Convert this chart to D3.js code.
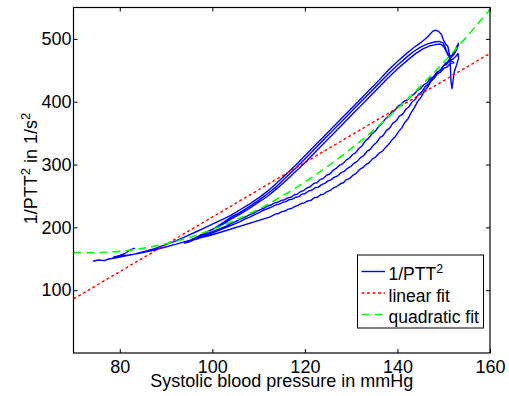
<!DOCTYPE html>
<html>
<head>
<meta charset="utf-8">
<script src="https://cdn.jsdelivr.net/npm/d3@7"></script>
<style>
  body { margin: 0; background: #fff; }
  text { font-family: "Liberation Sans", Arial, sans-serif; fill: #000; }
</style>
</head>
<body>
<svg id="chart" width="509" height="396"></svg>
<script>
// axis ticks
const xTicks = [80, 100, 120, 140, 160];
const yTicks = [100, 200, 300, 400, 500];

// 1/PTT^2 trace as [mmHg, 1/s^2], split into its cycles
const cycle1 = [
  [74.2,146],[75.4,148],[76.6,147],[77.8,150],[79,151],[80.3,153],[81.6,155],[83,157],[84.5,160],[86,163],
  [87.5,166],[89,170],[90.5,174],[92,178],[93.5,183],[95,188],[96.5,193],[98,198],[100,205],[102,212],
  [104,219],[106,228],[108,237],[110,247],[112,258],[114,271],[116,285],[118,299],[120,314],[122,329],
  [124,344],[126,359],[128,374],[130,389],[132,404],[134,419],[136,434],[138,450],[140,464],[142,477],
  [143.5,486],[145,494],[146.2,501],[147,507],[147.6,512],[148.2,514],[148.9,512],[149.5,507],[149.9,499],
  [150.4,492],[150.9,488],[151.2,477],[151.4,461],[151.5,445],[151.6,430],[151.8,421],[152,433],[152.3,448],
  [152.8,459],[153.2,469],[153.1,477],[152.6,472],
  [152,468],[151.3,466],[150.6,459],[149.9,457],[149.2,450],[148.5,447],[147.8,440],[147.1,437],[146.4,430],
  [145.7,427],[145,421],[144.3,418],[143.6,412],[142.9,409],[142.2,403],[141.5,401],[140.8,396],[140.1,393],
  [139.4,386],[138.7,383],[138,376],[137.3,372],[136.6,365],[135.9,360],[135.2,353],[134.5,349],[133.8,342],
  [133.1,338],[132.4,330],[131.7,326],[131,319],[130.3,316],[129.6,310],[128.9,307],[128.2,301],[127.5,299],
  [126.8,294],[126.1,291],[125.4,285],[124.7,283],[124,278],[123.3,276],[122.6,271],[121.9,270],[121.2,265],
  [120.5,263],[119.8,259],[119.1,257],[118.4,253],[117.7,252],[117,248],[116.3,247],[115.6,244],[114.9,243],
  [114.2,240],[113.5,239],[112.8,236],[112,234],[111,230],[110,227],[109,223],[108,220],[107,216],[106,213],
  [105,209],[104,206],[103,202],[102,199],[101,196],[100,193],[99,190],[98,187],[97,184],[96,181],[95,179]
];
const cycle2 = [
  [96,182],[97.5,187],[99,193],[100.5,199],[102,206],[104,216],[106,224],[108,233],[110,243],[112,254],
  [114,266],[116,280],[118,294],[120,309],[122,324],[124,339],[126,354],[128,369],[130,384],[132,399],
  [134,414],[136,429],[138,444],[140,458],[142,471],[143.5,480],[145,487],[146.5,492],[148,495],[149,496],
  [149.8,494],[150.3,487],[150.7,479],[151.2,472],[151.8,474],[152.4,481],[152.9,489],[153.2,493],[152.9,484],
  [152.3,476],[151.6,471],[150.9,464],[150.2,460],[149.5,452],[148.8,448],[148.1,440],[147.4,436],[146.7,428],
  [146,424],[145.3,416],[144.6,412],[143.9,404],[143.2,400],[142.5,392],[141.8,388],[141.1,380],[140.4,377],
  [139.7,369],[139,366],[138.3,358],[137.6,354],[136.9,346],[136.2,343],[135.5,335],[134.8,331],[134.1,324],
  [133.4,321],[132.7,314],[132,311],[131.3,305],[130.6,302],[129.9,297],[129.2,294],[128.5,289],[127.8,287],
  [127.1,282],[126.4,280],[125.7,276],[125,274],[124.3,270],[123.6,268],[122.9,264],[122.2,263],[121.5,259],
  [120.8,258],[120.1,254],[119.4,253],[118.7,249],[118,248],[117.3,245],[116.6,244],[115.9,241],[115.2,240],
  [114.5,237],[113.8,236],[113,233],[112,230],[111,227],[110,223],[109,220],[108,216],[107,213],[106,209],
  [105,206],[104,203],[103,200],[102,197],[101,194],[100,191],[99,188],[98,185],[97,182],[96,180],[95,177],[94,175]
];
const cycle3 = [
  [95,179],[96.5,184],[98,190],[99.5,195],[101,200],[102.5,206],[104,213],[106,221],[108,230],[110,240],
  [112,250],[114,262],[116,275],[118,289],[120,303],[122,318],[124,333],[126,348],[128,363],[130,378],
  [132,393],[134,408],[136,423],[138,438],[140,452],[142,465],[144,477],[145.5,484],[147,489],[148.2,491],
  [149.3,492],[150,488],[150.5,481],[151,473],[151.5,466],[152.2,462],
  [151.4,461],[150.7,455],[150,453],[149.3,447],[148.6,444],[147.9,437],[147.2,432],[146.5,423],[145.8,417],
  [145.1,407],[144.4,401],[143.7,391],[143,383],[142.3,373],[141.6,367],[140.9,358],[140.2,352],[139.5,344],
  [138.8,339],[138.1,332],[137.4,327],[136.7,321],[136,318],[135.3,312],[134.6,309],[133.9,303],[133.2,300],
  [132.5,295],[131.8,292],[131.1,286],[130.4,283],[129.7,278],[129,276],[128.3,271],[127.6,269],[126.9,265],
  [126.2,263],[125.5,259],[124.8,257],[124.1,253],[123.4,252],[122.7,248],[122,247],[121.3,243],[120.6,242],
  [119.9,239],[119.2,238],[118.5,235],[117.8,233],[117.1,230],[116.4,229],[115.7,226],[115,225],[114.3,222],
  [113.6,221],[112.8,218],[112.2,216],
  [99.5,187],[97,183],[94.5,178],[92,173],[89.5,168],[87,163],[84.5,159],[82,156],[80,154],[78.6,152.5],
  [79.8,155],[81,158],[82.2,164],[83.3,167]
];

// fits
const linearFit = [[70, 86], [160, 477]];
const quadFit = [
  [70,160],[75,159.6],[80,161.8],[85,166.6],[90,173.9],[95,183.8],[100,196.3],[105,211.4],[110,229],
  [115,249.2],[120,272],[125,297.4],[130,325.3],[135,355.8],[140,388.9],[145,424.6],[150,462.8],
  [155,503.6],[160,547]
];

const width = 509, height = 396;
const margin = { top: 7.5, right: 19, bottom: 43, left: 73.5 };
const innerWidth = width - margin.left - margin.right;
const innerHeight = height - margin.top - margin.bottom;

const svg = d3.select('#chart');
const g = svg.append('g')
  .attr('transform', `translate(${margin.left},${margin.top})`);

const x = d3.scaleLinear().domain([70, 160]).range([0, innerWidth]);
const y = d3.scaleLinear().domain([0, 550]).range([innerHeight, 0]);

// clip everything to the axes box
svg.append('defs').append('clipPath').attr('id', 'clip')
  .append('rect').attr('width', innerWidth).attr('height', innerHeight);

const line = d3.line().x(d => x(d[0])).y(d => y(d[1]));

const plot = g.append('g').attr('clip-path', 'url(#clip)');

// measured trace, one continuous line
plot.append('path')
  .datum(cycle1.concat(cycle2, cycle3))
  .attr('fill', 'none')
  .attr('stroke', '#0000ff')
  .attr('stroke-width', 1.4)
  .attr('stroke-linejoin', 'round')
  .attr('d', line);

plot.append('path')
  .datum(linearFit)
  .attr('fill', 'none')
  .attr('stroke', '#ff0000')
  .attr('stroke-width', 1.4)
  .attr('stroke-dasharray', '3,2.5')
  .attr('d', line);

plot.append('path')
  .datum(quadFit)
  .attr('fill', 'none')
  .attr('stroke', '#00ff00')
  .attr('stroke-width', 1.6)
  .attr('stroke-dasharray', '8,5')
  .attr('d', line.curve(d3.curveCatmullRom));

// axes: ticks point inward, mirrored on top and right
const xAxis = d3.axisBottom(x).tickValues(xTicks).tickSize(-4).tickPadding(7);
const yAxis = d3.axisLeft(y).tickValues(yTicks).tickSize(-4).tickPadding(2);

g.append('g').attr('class', 'x axis')
  .attr('transform', `translate(0,${innerHeight})`)
  .call(xAxis);
g.append('g').attr('class', 'y axis')
  .call(yAxis);
g.append('g').attr('class', 'x2 axis')
  .call(d3.axisTop(x).tickValues(xTicks).tickSize(-4).tickFormat(''));
g.append('g').attr('class', 'y2 axis')
  .attr('transform', `translate(${innerWidth},0)`)
  .call(d3.axisRight(y).tickValues(yTicks).tickSize(-4).tickFormat(''));

g.selectAll('.axis .domain').remove();
g.selectAll('.axis .tick line').attr('stroke', '#000').attr('stroke-width', 1);
g.selectAll('.axis .tick text')
  .style('font-family', '"Liberation Sans", Arial, sans-serif')
  .style('font-size', '18px')
  .attr('fill', '#000');

// box round the axes
g.append('rect')
  .attr('width', innerWidth).attr('height', innerHeight)
  .attr('fill', 'none').attr('stroke', '#000').attr('stroke-width', 1.2);

// axis titles
svg.append('text')
  .attr('x', margin.left + innerWidth / 2)
  .attr('y', 387)
  .attr('text-anchor', 'middle')
  .style('font-size', '18px')
  .text('Systolic blood pressure in mmHg');

const yTitle = svg.append('text')
  .attr('transform', 'translate(36.5,168.5) rotate(-90)')
  .attr('text-anchor', 'middle')
  .style('font-size', '18px');
yTitle.append('tspan').text('1/PTT');
yTitle.append('tspan').attr('dy', -7).style('font-size', '13px').text('2');
yTitle.append('tspan').attr('dy', 7).text(' in 1/s');
yTitle.append('tspan').attr('dy', -7).style('font-size', '13px').text('2');

// legend
const legend = svg.append('g').attr('transform', 'translate(357.5,255)');
legend.append('rect')
  .attr('width', 126).attr('height', 73)
  .attr('fill', '#fff').attr('stroke', '#000').attr('stroke-width', 1);

const legendItems = [
  { label: '1/PTT', sup: '2', color: '#0000ff', dash: null },
  { label: 'linear fit', sup: null, color: '#ff0000', dash: '3,2.5' },
  { label: 'quadratic fit', sup: null, color: '#00ff00', dash: '8,5' }
];

legendItems.forEach((item, i) => {
  const row = legend.append('g').attr('transform', `translate(0,${25 + i * 21.5})`);
  row.append('line')
    .attr('x1', 4).attr('x2', 27.5).attr('y1', -8.5).attr('y2', -8.5)
    .attr('stroke', item.color).attr('stroke-width', 1.4)
    .attr('stroke-dasharray', item.dash);
  const t = row.append('text').attr('x', 31).attr('y', 0).style('font-size', '17.5px');
  t.append('tspan').text(item.label);
  if (item.sup) t.append('tspan').attr('dy', -7).style('font-size', '12.5px').text(item.sup);
});
</script>
</body>
</html>
